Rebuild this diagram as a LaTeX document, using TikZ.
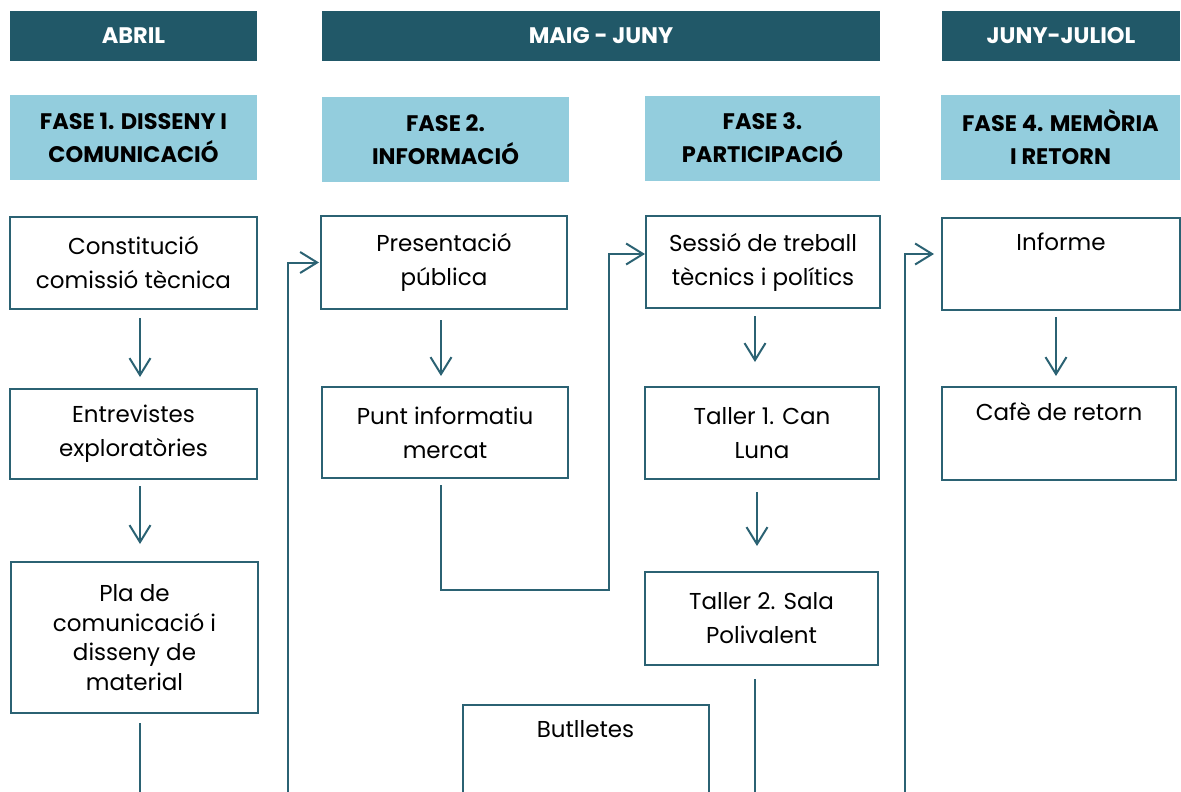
\documentclass[tikz,border=0pt]{standalone}
\usepackage{fontspec}
\setmainfont{Poppins}
\usetikzlibrary{arrows.meta}

\definecolor{darkteal}{HTML}{215868}
\definecolor{lineteal}{HTML}{2B6273}
\definecolor{lightblue}{HTML}{93CDDD}

\begin{document}
\begin{tikzpicture}
	[x=1pt,y=-1pt,
	%Styles
	month/.style={fill=darkteal,text=white,font=\fontsize{22.5}{24}\selectfont\bfseries,minimum height=50pt,inner sep=0pt},
	phase/.style={fill=lightblue,font=\fontsize{22.5}{33}\selectfont\bfseries,align=center,minimum height=85pt,inner sep=0pt},
	task/.style={draw=lineteal,line width=2pt,font=\fontsize{23}{34}\selectfont,align=center,inner sep=0pt},
	arr/.style={draw=lineteal,line width=2pt,-{Straight Barb[length=17pt,width=21pt]}},
	link/.style={draw=lineteal,line width=2pt}
	]
	
	\useasboundingbox (0,0) rectangle (1181,792);
	\clip (0,0) rectangle (1181,792);
	
	%Months
	\node[month,minimum width=247pt] (abril) at (133.5,36) {ABRIL};
	\node[month,minimum width=558pt] (maig) at (601,36) {MAIG - JUNY};
	\node[month,minimum width=238pt] (juliol) at (1061,36) {JUNY-JULIOL};
	
	%Phases
	\node[phase,minimum width=247pt] (fase1) at (133.5,137.5) {FASE 1. DISSENY I\\COMUNICACIÓ};
	\node[phase,minimum width=247pt] (fase2) at (445.5,139.5) {FASE 2.\\INFORMACIÓ};
	\node[phase,minimum width=235pt] (fase3) at (762.5,138) {FASE 3.\\PARTICIPACIÓ};
	\node[phase,minimum width=239pt] (fase4) at (1060.5,137.5) {FASE 4. MEMÒRIA\\I RETORN};
	
	%Tasks
	\node[task,minimum width=247pt,minimum height=92pt] (const) at (133.5,263) {Constitució\\comissió tècnica};
	\node[task,minimum width=247pt,minimum height=90pt] (entr) at (133.5,434) {Entrevistes\\exploratòries};
	\node[task,minimum width=247pt,minimum height=151pt,font=\fontsize{23}{29.5}\selectfont] (pla) at (134.5,637.5) {Pla de\\comunicació i\\disseny de\\material};
	\node[task,minimum width=246pt,minimum height=93pt] (pres) at (444,262.5) {Presentació\\pública};
	\node[task,minimum width=246pt,minimum height=91pt] (punt) at (445,432.5) {Punt informatiu\\mercat};
	\node[task,minimum width=246pt,minimum height=92pt] (butl) at (585.5,751) {Butlletes\\\strut};
	\node[task,minimum width=234pt,minimum height=92pt] (ses) at (763,262) {Sessió de treball\\tècnics i polítics};
	\node[task,minimum width=234pt,minimum height=92pt] (tall1) at (762,433) {Taller 1. Can\\Luna};
	\node[task,minimum width=233pt,minimum height=93pt] (tall2) at (761.5,618.5) {Taller 2. Sala\\Polivalent};
	\node[task,minimum width=238pt,minimum height=92pt] (inf) at (1061,264) {Informe\\\strut};
	\node[task,minimum width=234pt,minimum height=93pt] (cafe) at (1059,433.5) {Cafè de retorn\\\strut};
	
	%Free ends below the page
	\coordinate (plaend) at (140,800);
	\coordinate (loop1) at (288,800);
	\coordinate (bend) at (609,590);
	\coordinate (tallend) at (755,800);
	\coordinate (loop2) at (905,800);
	
	%Connectors
	\draw[arr,shorten <=8pt,shorten >=11pt] ([xshift=6.5pt]const.south) -- ([xshift=6.5pt]entr.north);
	\draw[arr,shorten <=6pt,shorten >=17pt] ([xshift=6.5pt]entr.south) -- ([xshift=5.5pt]pla.north);
	\draw[link,shorten <=9pt] ([xshift=5.5pt]pla.south) -- (plaend);
	\draw[arr,shorten >=1pt] (loop1) |- (pres.west);
	\draw[arr,shorten <=10pt,shorten >=10pt] ([xshift=-3pt]pres.south) -- ([xshift=-4pt]punt.north);
	\draw[arr,shorten <=6pt] ([xshift=-4pt]punt.south) |- (bend) |- ([yshift=8pt]ses.west);
	\draw[arr,shorten <=7pt,shorten >=24pt] ([xshift=-8pt]ses.south) -- ([xshift=-7pt]tall1.north);
	\draw[arr,shorten <=12pt,shorten >=25pt] ([xshift=-5pt]tall1.south) -- ([xshift=-4.5pt]tall2.north);
	\draw[link,shorten <=13pt] ([xshift=-6.5pt]tall2.south) -- (tallend);
	\draw[arr,shorten >=7pt] (loop2) |- ([yshift=10pt]inf.west);
	\draw[arr,shorten <=6pt,shorten >=10pt] ([xshift=-5pt]inf.south) -- ([xshift=-3pt]cafe.north);
\end{tikzpicture}
\end{document}
